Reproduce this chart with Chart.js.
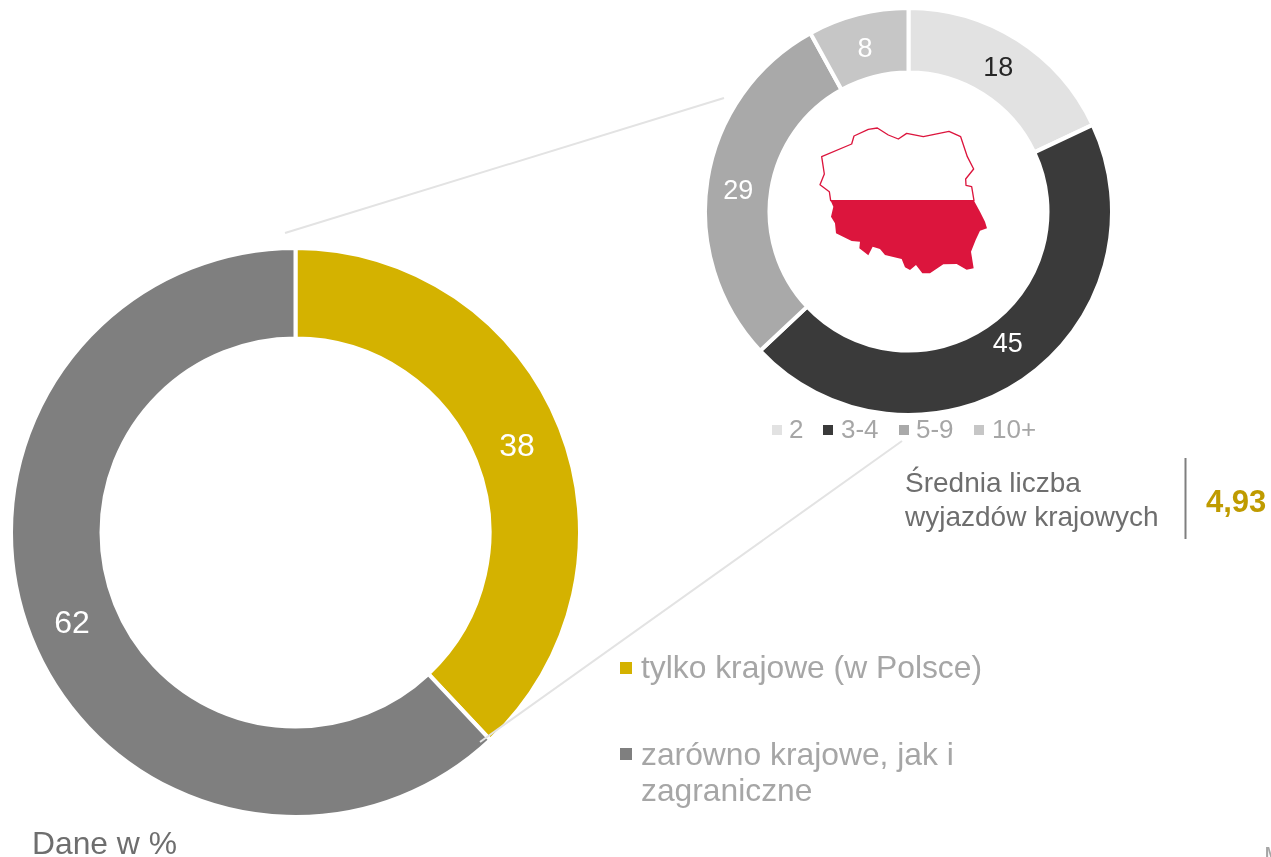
<!DOCTYPE html>
<html lang="pl">
<head>
<meta charset="utf-8">
<title>Wyjazdy krajowe</title>
<script src="https://cdn.jsdelivr.net/npm/chart.js@4"></script>
<style>
html,body{margin:0;padding:0;background:#fff;width:1271px;height:857px;overflow:hidden;font-family:"Liberation Sans",Arial,sans-serif}
canvas{position:absolute;display:block}
svg{position:absolute;left:0;top:0}
.t{position:absolute;white-space:nowrap}
.sq{position:absolute}
</style>
</head>
<body>
<svg width="1271" height="857" id="behind">
  <line x1="285" y1="233" x2="724" y2="98" stroke="#e3e3e3" stroke-width="2"/>
  <line x1="1185.5" y1="458" x2="1185.5" y2="539" stroke="#7f7f7f" stroke-width="2"/>
</svg>
<canvas id="mainChart" width="573" height="573" style="left:9px;top:246px;width:573px;height:573px"></canvas>
<canvas id="subChart" width="411" height="411" style="left:703px;top:6px;width:411px;height:411px"></canvas>
<svg width="1271" height="857" id="map">
  <line x1="480" y1="742" x2="902" y2="441" stroke="#e3e3e3" stroke-width="2"/>
  <g transform="translate(800 110) scale(0.33333)">
    <polygon fill="#fff" stroke="#dc153d" stroke-width="4" stroke-linejoin="round" points="92,272 88,245 60,224 73,192 65,140 155,102 162,78 205,58 232,54 265,75 295,87 320,70 370,80 447,64 482,80 502,140 521,177 497,207 498,226 515,230 522,272"/>
    <polygon fill="#dc153d" points="92,272 522,272 540,305 555,335 561,355 540,362 527,390 513,425 521,475 500,479 470,462 430,463 390,490 367,490 348,465 330,480 315,472 305,447 255,435 240,417 218,410 205,436 178,415 180,395 155,393 108,370 105,340 93,320 100,290"/>
  </g>
</svg>
<div id="texts"></div>
<script>
const mainCategories = ["tylko krajowe (w Polsce)", "zarówno krajowe, jak i zagraniczne"];
const mainValues = [38, 62];
const mainColors = ["#d4b200", "#7f7f7f"];
const mainLabelColors = ["#ffffff", "#ffffff"];

const subCategories = ["2", "3-4", "5-9", "10+"];
const subValues = [18, 45, 29, 8];
const subColors = ["#e2e2e2", "#3a3a3a", "#a9a9a9", "#c6c6c6"];
const subLabelColors = ["#262626", "#ffffff", "#ffffff", "#ffffff"];

const labelPlugin = {
  id: "sliceLabels",
  afterDatasetsDraw(chart, args, opts) {
    const ctx = chart.ctx;
    ctx.save();
    ctx.font = opts.size + 'px "Liberation Sans", Arial, sans-serif';
    ctx.textAlign = "center";
    ctx.textBaseline = "middle";
    chart.getDatasetMeta(0).data.forEach((arc, i) => {
      const p = arc.tooltipPosition();
      const o = opts.offsets[i];
      ctx.fillStyle = opts.colors[i];
      ctx.fillText(String(chart.data.datasets[0].data[i]), p.x + o[0], p.y + o[1]);
    });
    ctx.restore();
  }
};

function donut(id, labels, values, colors, labelColors, cutout, size, border, offsets) {
  return new Chart(document.getElementById(id), {
    type: "doughnut",
    data: { labels, datasets: [{ data: values, backgroundColor: colors, borderColor: "#ffffff", borderWidth: border }] },
    options: {
      responsive: false, animation: false, cutout,
      layout: { padding: 0 },
      plugins: { legend: { display: false }, tooltip: { enabled: false },
        sliceLabels: { size, colors: labelColors, offsets } }
    },
    plugins: [labelPlugin]
  });
}
donut("mainChart", mainCategories, mainValues, mainColors, mainLabelColors, 194, 32, 4, [[-1, 3], [-1, 4]]);
donut("subChart", subCategories, subValues, subColors, subLabelColors, 139, 27, 4, [[-2, 2], [3, -9], [-1, 7], [-1, 4]]);

const box = document.getElementById("texts");
function text(s, x, y, size, color, extra) {
  const d = document.createElement("div");
  d.className = "t";
  d.textContent = s;
  d.style.cssText = `left:${x}px;top:${y}px;font-size:${size}px;line-height:${size}px;color:${color};${extra||""}`;
  box.appendChild(d);
}
function square(x, y, w, color) {
  const d = document.createElement("div");
  d.className = "sq";
  d.style.cssText = `left:${x}px;top:${y}px;width:${w}px;height:${w}px;background:${color}`;
  box.appendChild(d);
}
const subLegendX = [[772, 789], [823, 841], [899, 916], [974, 992]];
subCategories.forEach((c, i) => {
  square(subLegendX[i][0], 425, 10, subColors[i]);
  text(c, subLegendX[i][1], 416, 26, "#a6a6a6");
});
square(620, 662, 12, mainColors[0]);
text("tylko krajowe (w Polsce)", 641, 652, 31.8, "#a6a6a6");
square(620, 748, 12, mainColors[1]);
text("zarówno krajowe, jak i", 641, 739, 31.8, "#a6a6a6");
text("zagraniczne", 641, 775, 31.8, "#a6a6a6");
text("Dane w %", 32, 828, 31.8, "#6e6e6e");
text("Średnia liczba", 905, 469, 28, "#6e6e6e");
text("wyjazdów krajowych", 905, 503, 28, "#6e6e6e");
text("4,93", 1206, 486, 31, "#bf9b00", "font-weight:bold;");
text("M", 1265, 846, 16, "#a6a6a6", "font-weight:bold;");
</script>
</body>
</html>
